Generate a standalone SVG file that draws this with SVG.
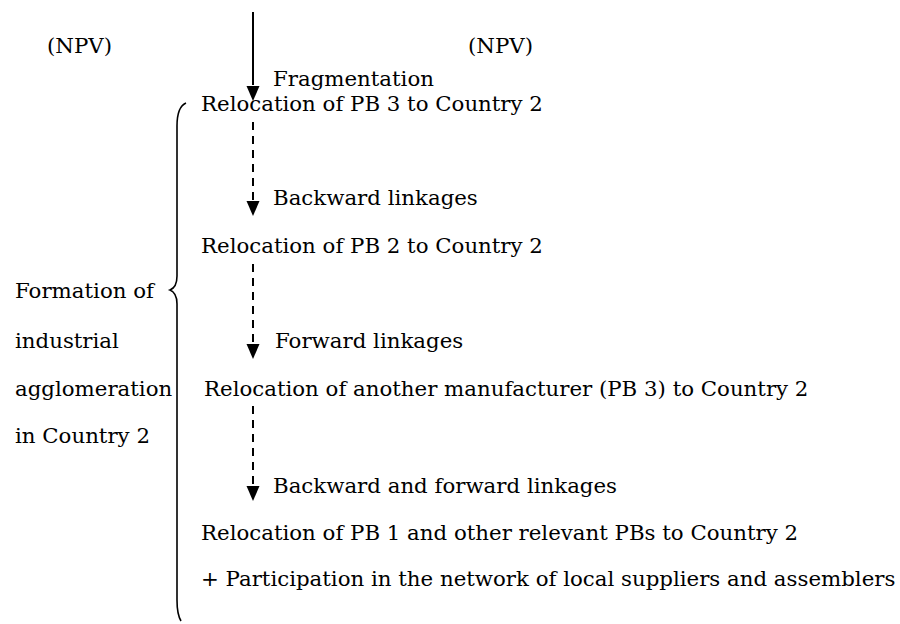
<svg xmlns="http://www.w3.org/2000/svg" width="900" height="624" viewBox="0 0 900 624">
  <style>
    text { font-family: "DejaVu Serif", "Liberation Serif", serif; font-size: 21.3px; fill: #000; }
    .solid { stroke: #000; stroke-width: 2; fill: none; }
    .dash { stroke: #000; stroke-width: 2; fill: none; stroke-dasharray: 8 6; }
    .brace { stroke: #000; stroke-width: 1.6; fill: none; }
  </style>
  <rect width="900" height="624" fill="#fff"/>

  <g id="npv-left"><text x="47" y="53">(NPV)</text></g>
  <g id="npv-right"><text x="468" y="53">(NPV)</text></g>

  <g id="connectors">
    <path class="solid" d="M253,12 V85" />
    <path d="M246.5,86 L259.5,86 L253,101 Z" fill="#000"/>
    <path class="dash" d="M253,122 V200" />
    <path d="M246.5,201 L259.5,201 L253,216 Z" fill="#000"/>
    <path class="dash" d="M253,264 V343" />
    <path d="M246.5,344 L259.5,344 L253,359 Z" fill="#000"/>
    <path class="dash" d="M253,406 V485" />
    <path d="M246.5,486 L259.5,486 L253,501 Z" fill="#000"/>
  </g>

  <g id="label-fragmentation"><text x="273" y="86">Fragmentation</text></g>
  <g id="step-pb3"><text x="201" y="111">Relocation of PB 3 to Country 2</text></g>
  <g id="label-backward"><text x="273" y="205">Backward linkages</text></g>
  <g id="step-pb2"><text x="201" y="253">Relocation of PB 2 to Country 2</text></g>
  <g id="label-forward"><text x="275" y="348">Forward linkages</text></g>
  <g id="step-another"><text x="204" y="396">Relocation of another manufacturer (PB 3) to Country 2</text></g>
  <g id="label-both"><text x="273" y="493">Backward and forward linkages</text></g>
  <g id="step-pb1">
    <text x="201" y="540">Relocation of PB 1 and other relevant PBs to Country 2</text>
    <text x="201" y="586">+ Participation in the network of local suppliers and assemblers</text>
  </g>

  <g id="agglomeration">
    <path class="brace" d="M186,103 C179,106 177,114 177,126 V276 C177,284 175,288 170,290 C175,292 177,296 177,304 V600 C177,610 178,616 181,621" />
    <text x="15" y="298">Formation of</text>
    <text x="15" y="348">industrial</text>
    <text x="15" y="396">agglomeration</text>
    <text x="15" y="443">in Country 2</text>
  </g>
</svg>
